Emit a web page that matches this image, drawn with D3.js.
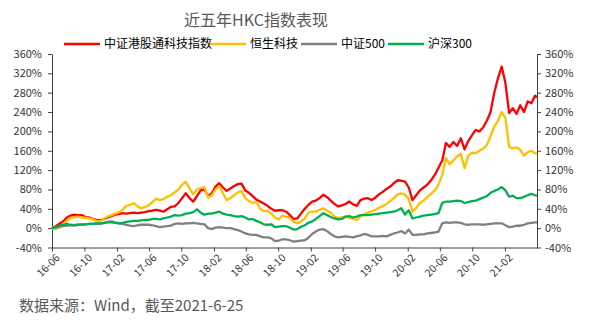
<!DOCTYPE html>
<html>
<head>
<meta charset="utf-8">
<script src="https://cdn.jsdelivr.net/npm/d3@7"></script>
<style>
  body { margin: 0; background: #fff; }
  text { font-family: "Noto Sans CJK SC", "Microsoft YaHei", sans-serif; }
</style>
</head>
<body>
<div id="chart-div"></div>
<script>
// データ（2週間ごと・累計収益率 %）-------------------------------------------------
const startDate = new Date(2016, 5, 24);
const endDate = new Date(2021, 5, 25);
const dates = d3.timeDay.range(startDate, endDate, 14).concat([endDate]);

const hkTech = [0,4,9,14,22,26,28,27,27,23,22,19,17,16,19,22,25,28,29,31,30,31,32,31,32,33,35,36,38,36,
  34,39,44,45,52,62,72,62,55,66,78,80,66,72,86,93,84,77,82,87,91,92,78,73,66,59,55,51,46,40,
  36,37,37,34,27,19,20,30,40,48,55,57,62,69,64,57,50,45,47,50,55,49,46,58,61,62,58,63,70,75,
  81,86,93,99,98,96,84,58,68,78,84,90,99,110,125,140,176,168,178,170,186,163,180,192,203,200,208,222,240,280,
  310,334,300,238,248,236,254,240,262,258,274,270];
const hsTech = [-1,-2,1,8,15,21,23,24,22,21,20,18,15,14,20,24,27,30,33,38,46,48,52,45,41,44,47,54,61,58,
  60,65,68,74,80,90,96,82,70,80,83,85,63,68,80,87,72,58,62,68,74,77,62,56,52,54,40,35,36,30,
  22,18,26,24,21,13,10,14,20,32,34,34,38,41,36,32,24,21,23,24,21,19,17,24,29,32,35,38,42,46,
  50,56,62,70,72,69,60,34,42,52,57,64,71,78,90,110,145,132,140,148,154,124,150,156,155,160,164,172,190,210,
  222,240,228,168,165,167,162,150,157,160,154,155];
const csi500 = [0,1,3,4,5,6,6,7,7,8,9,9,9,9,11,13,14,12,10,9,7,5,4,6,7,7,7,6,4,2,
  3,4,5,9,10,9,10,10,11,10,9,8,0,-2,1,2,1,0,0,-2,-4,-7,-11,-13,-14,-14,-17,-19,-19,-21,
  -27,-26,-23,-23,-25,-28,-27,-26,-25,-20,-12,-7,-3,-2,-6,-12,-17,-19,-18,-17,-18,-19,-17,-15,-12,-14,-17,-17,-17,-16,
  -17,-14,-11,-9,-6,-11,-3,-14,-14,-13,-13,-11,-10,-9,-7,10,12,11,12,12,11,8,7,8,8,8,7,8,9,10,
  10,10,6,2,3,5,5,7,10,11,12,12];
const hs300 = [0,2,5,7,9,7,6,7,8,8,9,9,10,10,11,12,12,11,10,11,13,14,15,15,16,17,17,19,19,18,
  20,22,24,27,26,27,30,31,33,39,32,28,30,30,32,34,30,28,27,25,24,25,22,18,19,15,12,8,7,8,
  2,3,4,4,1,-3,-2,3,6,11,14,19,25,31,27,23,20,18,19,24,25,22,24,27,27,27,28,29,30,31,
  32,33,34,37,41,28,37,20,22,24,26,27,28,29,31,52,55,55,56,57,56,52,54,56,57,60,63,66,73,77,
  80,85,78,65,67,62,62,65,68,71,68,67];

const seriesNames = ['中证港股通科技指数', '恒生科技', '中证500', '沪深300'];
const seriesValues = [hkTech, hsTech, csi500, hs300];
const seriesColors = ['#ff0000', '#ffc000', '#808080', '#00b050'];
const yTicks = d3.range(-40, 361, 40);
const xTicks = d3.range(0, 15).map(k => d3.timeMonth.offset(startDate, k * 4));

// SVG領域 -------------------------------------------------------------------------
const width = 589, height = 325;
const margin = {left: 52, right: 52, top: 54, bottom: 78};

const svg = d3.select('#chart-div')
  .append('svg')
  .attr('width', width)
  .attr('height', height);

const x = d3.scaleTime()
  .domain([startDate, endDate])
  .range([margin.left, width - margin.right]);
const y = d3.scaleLinear()
  .domain([-40, 360])
  .range([height - margin.bottom + 0.5, margin.top]);

// 軸 --------------------------------------------------------------------------------
const fmtPct = d => d + '%';
const axisStyle = g => {
  g.select('.domain').attr('stroke', '#404040');
  g.selectAll('.tick line').attr('stroke', '#404040');
  g.selectAll('.tick text').attr('fill', '#333').attr('font-size', '11px');
};

svg.append('g')
  .attr('transform', 'translate(' + margin.left + ',0)')
  .call(d3.axisLeft(y).tickValues(yTicks).tickFormat(fmtPct).tickSize(4).tickSizeOuter(0).tickPadding(6))
  .call(axisStyle);

svg.append('g')
  .attr('transform', 'translate(' + (width - margin.right) + ',0)')
  .call(d3.axisRight(y).tickValues(yTicks).tickFormat(fmtPct).tickSize(4).tickSizeOuter(0).tickPadding(4))
  .call(axisStyle);

svg.append('g')
  .attr('transform', 'translate(0,' + y(-40) + ')')
  .call(d3.axisBottom(x).tickValues(xTicks).tickFormat(d3.timeFormat('%y-%m')).tickSize(4).tickSizeOuter(0))
  .call(axisStyle)
  .selectAll('.tick text')
  .attr('font-size', '10.5px')
  .attr('text-anchor', 'end')
  .attr('dx', '-0.2em')
  .attr('dy', '0.6em')
  .attr('transform', 'rotate(-45)');

// 折れ線 ----------------------------------------------------------------------------
const line = d3.line()
  .x((d, i) => x(dates[i]))
  .y(d => y(d));

svg.append('g')
  .selectAll('path')
  .data(seriesValues)
  .enter()
  .append('path')
  .attr('d', line)
  .attr('fill', 'none')
  .attr('stroke', (d, i) => seriesColors[i])
  .attr('stroke-width', 2.3)
  .attr('stroke-linejoin', 'round');

// タイトル ---------------------------------------------------------------------------
svg.append('text')
  .attr('x', 256)
  .attr('y', 26)
  .attr('text-anchor', 'middle')
  .attr('font-size', '16px')
  .attr('fill', '#595959')
  .text('近五年HKC指数表现');

// 凡例 ------------------------------------------------------------------------------
const legendX = [64, 210, 301, 388];
const legend = svg.append('g')
  .selectAll('g')
  .data(seriesNames)
  .enter()
  .append('g')
  .attr('transform', (d, i) => 'translate(' + legendX[i] + ',44)');
legend.append('line')
  .attr('x1', 0).attr('x2', 36)
  .attr('stroke', (d, i) => seriesColors[i])
  .attr('stroke-width', 2.3);
legend.append('text')
  .attr('x', 40)
  .attr('dy', '0.36em')
  .attr('font-size', '12px')
  .attr('fill', '#000')
  .text(d => d);

// 出典 ------------------------------------------------------------------------------
svg.append('text')
  .attr('x', 19)
  .attr('y', 311)
  .attr('font-size', '15px')
  .attr('fill', '#595959')
  .text('数据来源：Wind，截至2021-6-25');
</script>
</body>
</html>
